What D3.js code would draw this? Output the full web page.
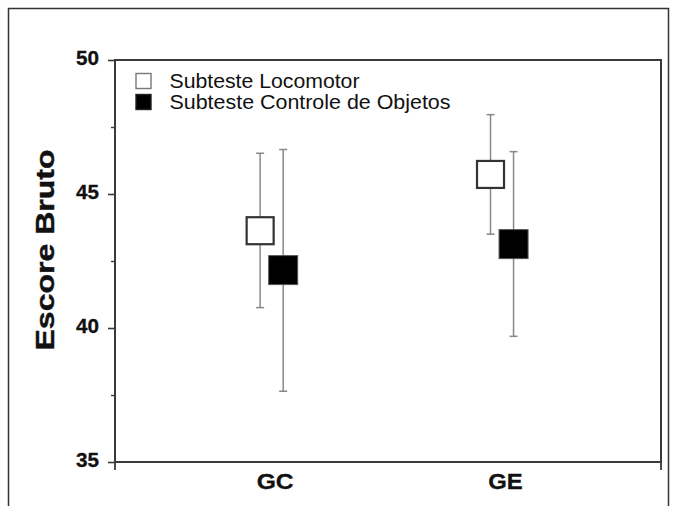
<!DOCTYPE html>
<html><head><meta charset="utf-8">
<script src="https://cdn.jsdelivr.net/npm/d3@7"></script>
<style>html,body{margin:0;padding:0;background:#fff}svg{display:block}</style>
</head><body>
<svg id="c" width="678" height="506"></svg>
<script>
const categories = ["GC", "GE"];
const seriesNames = ["Subteste Locomotor", "Subteste Controle de Objetos"];
const locoMean = [43.63, 45.73];
const locoLow  = [40.76, 43.50];
const locoHigh = [46.52, 47.96];
const ctrlMean = [42.16, 43.13];
const ctrlLow  = [37.64, 39.69];
const ctrlHigh = [46.66, 46.58];
const yTicks = [35, 40, 45, 50];
const yMinorTicks = [37.5, 42.5, 47.5];

const svg = d3.select("#c");
const font = "Arial, 'Liberation Sans', Helvetica, sans-serif";
const L = 115, R = 661, T = 60, B = 462;
const axisColor = "#3a3a3a";

// outer frame
svg.append("rect").attr("x", 8.5).attr("y", 8.5).attr("width", 660).attr("height", 520)
  .attr("fill", "none").attr("stroke", "#333").attr("stroke-width", 1.5);

const y = d3.scaleLinear().domain([35, 50]).range([B, T]);
const x = d3.scaleLinear().domain([0.32, 2.69]).range([L, R]);
const catPos = categories.map((c, i) => i + 1);
const offsets = [-0.05, 0.05];

// y axis (major)
const yAxis = d3.axisLeft(y).tickValues(yTicks).tickSize(7).tickFormat(d3.format("d"));
const gy = svg.append("g").attr("transform", `translate(${L},0)`).call(yAxis);
gy.select(".domain").remove();
gy.selectAll(".tick line").attr("stroke", axisColor).attr("stroke-width", 1.6);
gy.selectAll(".tick text").remove();
// minor ticks
const yMinor = d3.axisLeft(y).tickValues(yMinorTicks).tickSize(4).tickFormat("");
const gym = svg.append("g").attr("transform", `translate(${L},0)`).call(yMinor);
gym.select(".domain").remove();
gym.selectAll(".tick line").attr("stroke", axisColor).attr("stroke-width", 1.4);

// tick labels
svg.append("g").selectAll("text").data(yTicks).join("text")
  .attr("x", 99).attr("y", d => y(d) + 5)
  .attr("text-anchor", "end")
  .attr("font-family", font).attr("font-weight", "bold").attr("font-size", 19.5)
  .attr("textLength", 23).attr("lengthAdjust", "spacingAndGlyphs")
  .attr("stroke", "#111").attr("stroke-width", 0.3)
  .attr("fill", "#111").text(d => d);

// x end ticks
svg.append("g").selectAll("line").data([x.domain()[0], x.domain()[1]]).join("line")
  .attr("x1", d => x(d)).attr("x2", d => x(d)).attr("y1", B).attr("y2", B + 8)
  .attr("stroke", axisColor).attr("stroke-width", 1.8);

// plot box
svg.append("rect").attr("x", L).attr("y", T).attr("width", R - L).attr("height", B - T)
  .attr("fill", "none").attr("stroke", axisColor).attr("stroke-width", 2);

// category labels
svg.append("g").selectAll("text").data(categories).join("text")
  .attr("x", (d, i) => x(catPos[i]) + 3.5).attr("y", 488.5)
  .attr("text-anchor", "middle")
  .attr("font-family", font).attr("font-weight", "bold").attr("font-size", 22.5)
  .attr("textLength", (d, i) => i === 0 ? 37 : 34.5).attr("lengthAdjust", "spacingAndGlyphs")
  .attr("stroke", "#111").attr("stroke-width", 0.3)
  .attr("fill", "#111").text(d => d);

// y title
svg.append("text")
  .attr("transform", `translate(54,250) rotate(-90)`)
  .attr("text-anchor", "middle")
  .attr("font-family", font).attr("font-weight", "bold").attr("font-size", 25)
  .attr("textLength", 201).attr("lengthAdjust", "spacingAndGlyphs")
  .attr("stroke", "#111").attr("stroke-width", 0.4)
  .attr("fill", "#111").text("Escore Bruto");

const series = [
  {mean: locoMean, low: locoLow, high: locoHigh, fill: "#fff", stroke: "#333", sw: 2.2, size: 27},
  {mean: ctrlMean, low: ctrlLow, high: ctrlHigh, fill: "#000", stroke: "#555", sw: 1, size: 29}
];

series.forEach((s, si) => {
  const g = svg.append("g");
  const pts = categories.map((c, i) => ({cx: x(catPos[i] + offsets[si]), m: s.mean[i], lo: s.low[i], hi: s.high[i]}));
  g.selectAll(".eb").data(pts).join("line")
    .attr("x1", d => d.cx).attr("x2", d => d.cx).attr("y1", d => y(d.lo)).attr("y2", d => y(d.hi))
    .attr("stroke", "#888").attr("stroke-width", 1.5);
  ["lo", "hi"].forEach(k => {
    g.selectAll(".cap" + k).data(pts).join("line")
      .attr("x1", d => d.cx - 4).attr("x2", d => d.cx + 4).attr("y1", d => y(d[k])).attr("y2", d => y(d[k]))
      .attr("stroke", "#888").attr("stroke-width", 1.5);
  });
  g.selectAll("rect").data(pts).join("rect")
    .attr("x", d => d.cx - s.size / 2).attr("y", d => y(d.m) - s.size / 2)
    .attr("width", s.size).attr("height", s.size)
    .attr("fill", s.fill).attr("stroke", s.stroke).attr("stroke-width", s.sw);
});

// legend
const leg = svg.append("g");
const legY = [81, 102];
leg.selectAll("rect").data(seriesNames).join("rect")
  .attr("x", 136).attr("y", (d, i) => legY[i] - 7.5).attr("width", 15).attr("height", 15)
  .attr("fill", (d, i) => i === 0 ? "#fff" : "#000")
  .attr("stroke", (d, i) => i === 0 ? "#777" : "#222").attr("stroke-width", 1.4);
leg.selectAll("text").data(seriesNames).join("text")
  .attr("x", 169.5).attr("y", (d, i) => legY[i] + 7)
  .attr("font-family", font).attr("font-size", 19.5)
  .attr("textLength", (d, i) => i === 0 ? 190 : 281).attr("lengthAdjust", "spacingAndGlyphs")
  .attr("fill", "#111").text(d => d);
</script>
</body></html>
